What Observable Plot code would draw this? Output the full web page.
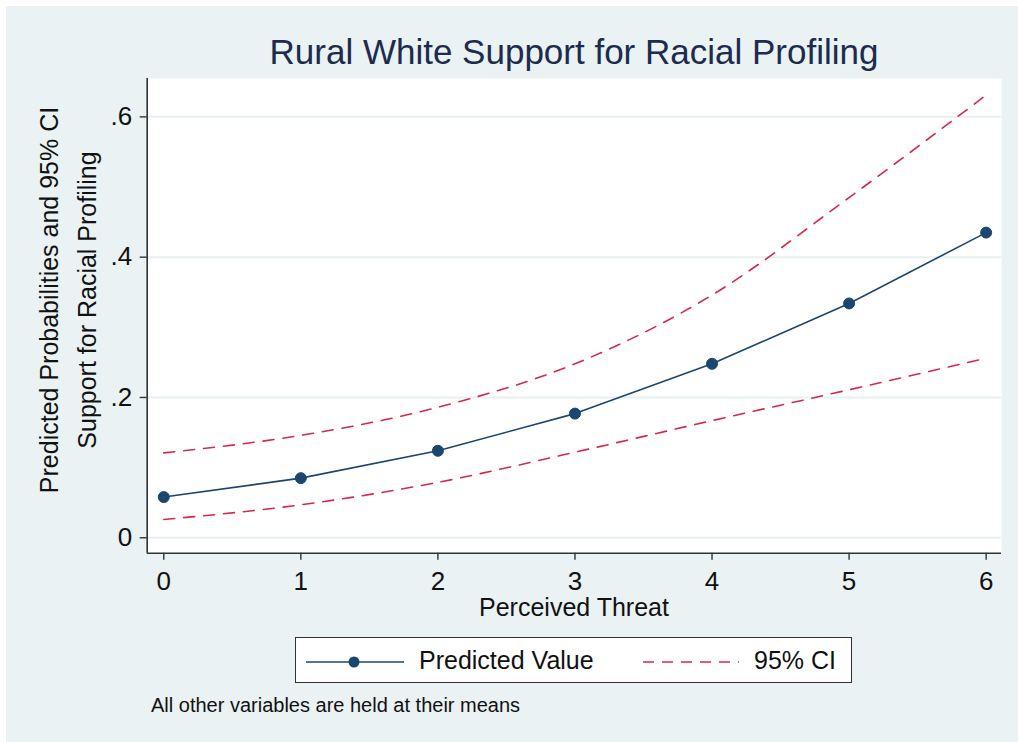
<!DOCTYPE html>
<html>
<head>
<meta charset="utf-8">
<script src="https://cdn.jsdelivr.net/npm/d3@7"></script>
<script src="https://cdn.jsdelivr.net/npm/@observablehq/plot@0.6"></script>
<style>
  html, body { margin: 0; padding: 0; background: #ffffff; }
  body { width: 1018px; height: 742px; position: relative; overflow: hidden;
         font-family: "Liberation Sans", Arial, sans-serif; }
  #bg { position: absolute; left: 6px; top: 6px; right: 0; bottom: 0; background: #eaf2f3; }
  #chart { position: absolute; left: 0; top: 0; }
  #title { position: absolute; left: 0; width: 1148px; top: 32px; text-align: center;
           font-size: 35px; color: #1c2b4e; white-space: nowrap; line-height: 40px; }
  #legend { position: absolute; left: 295px; top: 637px; width: 555px; height: 44px;
            background: #fff; border: 1.5px solid #333; box-sizing: content-box; }
  #legend span { position: absolute; top: 8px; font-size: 25px; color: #111; line-height: 28px; }
  #caption { position: absolute; left: 151px; top: 694px; font-size: 20px; color: #111; white-space: nowrap; }
</style>
</head>
<body>
<div id="bg"></div>
<div id="chart"></div>
<div id="title">Rural White Support for Racial Profiling</div>
<div id="legend">
  <svg width="555" height="44" style="position:absolute;left:0;top:0">
    <line x1="10" x2="108" y1="24" y2="24" stroke="#1a476f" stroke-width="1.6"/>
    <circle cx="58" cy="24" r="5.5" fill="#1a476f"/>
    <line x1="347" x2="443" y1="24" y2="24" stroke="#d4294f" stroke-width="1.6" stroke-dasharray="11,8"/>
  </svg>
  <span style="left:123px">Predicted Value</span>
  <span style="left:458px">95% CI</span>
</div>
<div id="caption">All other variables are held at their means</div>
<script>
// ---- data ----
const threat = [0, 1, 2, 3, 4, 5, 6];
const predicted = [0.058, 0.085, 0.124, 0.177, 0.248, 0.334, 0.435];
const ciUpper = [0.121, 0.146, 0.186, 0.248, 0.346, 0.485, 0.631];
const ciLower = [0.026, 0.047, 0.079, 0.122, 0.167, 0.211, 0.256];
const yTicks = [0, 0.2, 0.4, 0.6];
const yTickLabels = ["0", ".2", ".4", ".6"];
const xTicks = [0, 1, 2, 3, 4, 5, 6];
const xTitle = "Perceived Threat";
const yTitleLines = ["Predicted Probabilities and 95% CI", "Support for Racial Profiling"];

const navy = "#1a476f";
const ciColor = "#d4294f";
const xDomain = [-0.121, 6.112];
const yDomain = [-0.022, 0.6547];

const rows = threat.map((t, i) => ({t, pred: predicted[i], hi: ciUpper[i], lo: ciLower[i]}));

const chart = Plot.plot({
  width: 1018,
  height: 742,
  marginLeft: 146.7,
  marginRight: 17,
  marginTop: 78,
  marginBottom: 189.3,
  x: {domain: xDomain},
  y: {domain: yDomain},
  style: {background: "transparent", fontFamily: "'Liberation Sans', Arial, sans-serif",
          fontSize: "26px", color: "#111", overflow: "visible"},
  marks: [
    Plot.frame({fill: "white", stroke: "none"}),
    Plot.gridY(yTicks, {stroke: "#e8f0f1", strokeOpacity: 1, strokeWidth: 2}),
    Plot.line(rows, {x: "t", y: "hi", stroke: ciColor, strokeWidth: 1.6, strokeDasharray: "11,9", curve: "monotone-x"}),
    Plot.line(rows, {x: "t", y: "lo", stroke: ciColor, strokeWidth: 1.6, strokeDasharray: "11,9", curve: "monotone-x"}),
    Plot.line(rows, {x: "t", y: "pred", stroke: navy, strokeWidth: 1.6}),
    Plot.dot(rows, {x: "t", y: "pred", r: 5.5, fill: navy, stroke: navy, strokeWidth: 1}),
    Plot.ruleX([xDomain[0]], {stroke: "#333", strokeWidth: 1.6}),
    Plot.ruleY([yDomain[0]], {stroke: "#333", strokeWidth: 1.6}),
    Plot.axisX(xTicks, {tickSize: 7, tickPadding: 11, label: null, strokeWidth: 1.4, stroke: "#333",
                        tickFormat: d => String(d)}),
    Plot.axisY(yTicks, {tickSize: 7, tickPadding: 8, label: null, strokeWidth: 1.4, stroke: "#333",
                        tickFormat: d => yTickLabels[yTicks.indexOf(d)]})
  ]
});
document.getElementById("chart").appendChild(chart);

// axis titles as text
const svg = d3.select(chart);
svg.append("text")
  .attr("x", 574).attr("y", 616)
  .attr("text-anchor", "middle")
  .attr("font-size", 25).attr("fill", "#111")
  .text(xTitle);
const yt = svg.append("g").attr("transform", "translate(0,300) rotate(-90)");
yTitleLines.forEach((s, i) => {
  yt.append("text")
    .attr("x", 0).attr("y", 58 + i * 38)
    .attr("text-anchor", "middle")
    .attr("font-size", 25).attr("fill", "#111")
    .text(s);
});
</script>
</body>
</html>
